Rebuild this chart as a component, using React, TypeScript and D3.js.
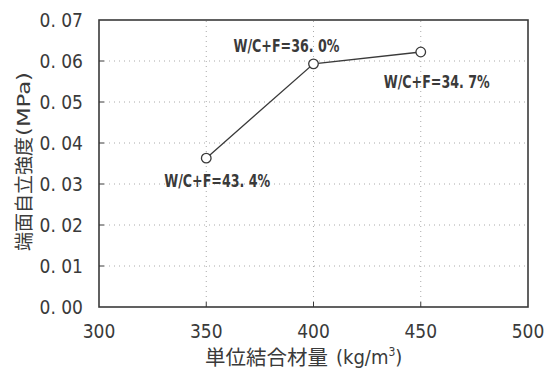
import React from "react";
import * as d3 from "d3";

// Binder content (kg/m³) vs. end-face self-standing strength (MPa)
const binderContent = [350, 400, 450];
const strength = [0.0363, 0.0593, 0.0622];
const ratioLabels = ["W/C+F=43.4%", "W/C+F=36.0%", "W/C+F=34.7%"];
const xTicks = [300, 350, 400, 450, 500];
const yTicks = [0, 0.01, 0.02, 0.03, 0.04, 0.05, 0.06, 0.07];

const W = 551;
const H = 376;
const margin = { left: 99, right: 23, top: 20, bottom: 69 };
const FONT = "'DejaVu Sans Condensed', 'Liberation Sans Narrow', 'DejaVu Sans', sans-serif";
const CJK = "'Noto Sans CJK JP', sans-serif";
const INK = "#3a3a3a";

// label offsets relative to each point
const labelOffsets = [
  { dx: 11, dy: 29 },
  { dx: -27, dy: -12 },
  { dx: 16, dy: 36 },
];

export default function App() {
  const x = d3.scaleLinear().domain([300, 500]).range([margin.left, W - margin.right]);
  const y = d3.scaleLinear().domain([0, 0.07]).range([H - margin.bottom, margin.top]);
  const pts = binderContent.map((v, i) => [x(v), y(strength[i])] as [number, number]);
  const line = d3.line()(pts) ?? "";
  const x0 = x(300), x1 = x(500), y0 = y(0), y1 = y(0.07);

  return (
    <svg width={W} height={H} style={{ position: "absolute", left: 0, top: 0, background: "#fff" }}>
      {/* dotted grid */}
      {yTicks.slice(1, -1).map((t) => (
        <line key={"gy" + t} x1={x0} x2={x1} y1={y(t)} y2={y(t)} stroke="#aaa" strokeWidth={1} strokeDasharray="1 4" />
      ))}
      {xTicks.slice(1, -1).map((t) => (
        <line key={"gx" + t} x1={x(t)} x2={x(t)} y1={y0} y2={y1} stroke="#aaa" strokeWidth={1} strokeDasharray="1 4" />
      ))}
      {/* inward ticks */}
      {yTicks.slice(1, -1).map((t) => (
        <line key={"ty" + t} x1={x0} x2={x0 + 5} y1={y(t)} y2={y(t)} stroke={INK} strokeWidth={1} />
      ))}
      {xTicks.slice(1, -1).map((t) => (
        <line key={"tx" + t} x1={x(t)} x2={x(t)} y1={y0} y2={y0 - 5} stroke={INK} strokeWidth={1} />
      ))}
      {/* frame */}
      <rect x={x0} y={y1} width={x1 - x0} height={y0 - y1} fill="none" stroke={INK} strokeWidth={1.6} />
      {/* series */}
      <path d={line} fill="none" stroke={INK} strokeWidth={1.3} />
      {pts.map(([px, py], i) => (
        <circle key={"p" + i} cx={px} cy={py} r={4.8} fill="#fff" stroke={INK} strokeWidth={1.3} />
      ))}
      {pts.map(([px, py], i) => (
        <text key={"l" + i} x={px + labelOffsets[i].dx} y={py + labelOffsets[i].dy} fontFamily={FONT}
          fontSize={18} fontWeight="bold" fill={INK} textAnchor="middle" textLength={106} lengthAdjust="spacingAndGlyphs">
          {ratioLabels[i].replace(/(\d+)\.(\d)/, "$1. $2")}
        </text>
      ))}
      {/* y tick labels */}
      {yTicks.map((t) => (
        <text key={"yl" + t} x={83} y={y(t) + 7} textAnchor="end" fontFamily={FONT} fontSize={19} fill={INK}>
          {t.toFixed(2).replace(".", ". ")}
        </text>
      ))}
      {/* x tick labels */}
      {xTicks.map((t) => (
        <text key={"xl" + t} x={x(t)} y={338} textAnchor="middle" fontFamily={FONT} fontSize={19} fill={INK}>
          {t}
        </text>
      ))}
      {/* axis titles */}
      <text x={205} y={365} fontFamily={CJK} fontSize={20.5} fill={INK}>
        単位結合材量
      </text>
      <text x={336} y={364} fontFamily={FONT} fontSize={20} fill={INK}>
        (kg/m<tspan dy={-8} fontSize={12}>3</tspan><tspan dy={8}>)</tspan>
      </text>
      <g transform="translate(31,0) rotate(-90)">
        <text x={-251} y={0} fontFamily={CJK} fontSize={19} fill={INK}>
          端面自立強度
        </text>
        <text x={-136} y={-1} fontFamily={FONT} fontSize={17} fill={INK} textLength={64} lengthAdjust="spacingAndGlyphs">
          (MPa)
        </text>
      </g>
    </svg>
  );
}
